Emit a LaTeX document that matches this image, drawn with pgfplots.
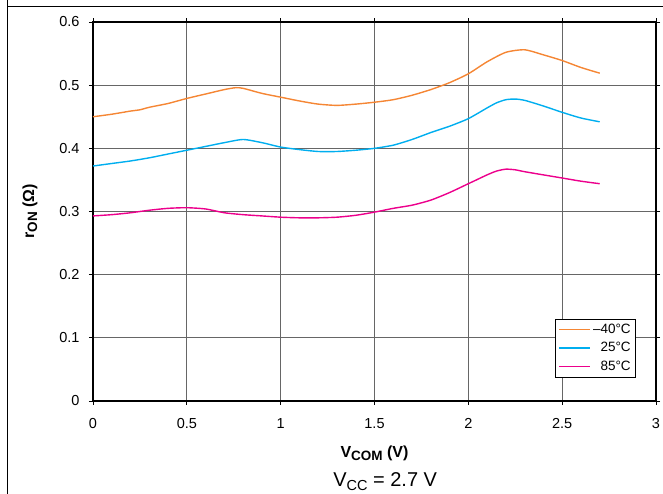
\documentclass[border=0pt]{standalone}
\usepackage{fontspec}
\setmainfont{Liberation Sans}
\usepackage{pgfplots}
\pgfplotsset{compat=1.18}

\definecolor{corange}{RGB}{245,134,52}
\definecolor{ccyan}{RGB}{0,174,239}
\definecolor{cmagenta}{RGB}{236,0,140}

% subscript at a fixed size
\newcommand{\sub}[2]{\raisebox{-0.35ex}{\fontsize{#1}{#1}\selectfont #2}}

\begin{document}
\begin{tikzpicture}[x=1pt,y=1pt]
% page frame
\useasboundingbox (-93,-93) rectangle (570,401);
\draw[line width=1pt] (-85,401) -- (-85,-93);
\draw[line width=1pt] (-85,394) -- (570,394);

\begin{axis}[
    at={(0,0)}, anchor=south west,
    scale only axis,
    width=563pt, height=379pt,
    xmin=0, xmax=3, ymin=0, ymax=0.6,
    xtick={0,0.5,...,3},
    ytick={0,0.1,...,0.6},
    xticklabels={0,0.5,1,1.5,2,2.5,3},
    yticklabels={0,0.1,0.2,0.3,0.4,0.5,0.6},
    tick align=outside,
    major tick length=4pt,
    tick style={black, line width=0.8pt},
    axis line style={line width=2.5pt},
    grid=major,
    grid style={gray!80!black, line width=1pt},
    ticklabel style={font=\fontsize{14.5}{16}\selectfont},
    xticklabel style={yshift=-9.5pt},
    yticklabel style={xshift=-6pt},
    /pgf/number format/assume math mode=true,
    xlabel={\bfseries V\sub{13.5}{COM}\ (V)},
    ylabel={\bfseries r\sub{13.5}{ON}\ (Ω)},
    every axis x label/.style={at={(axis description cs:0.5,-0.137)}, anchor=center, font=\fontsize{16}{18}\selectfont},
    every axis y label/.style={at={(axis description cs:-0.112,0.5)}, anchor=center, rotate=90, font=\fontsize{16}{18}\selectfont},
    clip=false,
    legend cell align=right,
    legend style={at={(0.9645,0.063)}, anchor=south east, draw=black, line width=0.6pt,
        font=\fontsize{13.5}{15}\selectfont, row sep=3.5pt, inner sep=3pt},
    legend image code/.code={\draw[#1, line width=1.6pt] (0pt,0pt) -- (31pt,0pt);},
    every axis plot/.append style={line width=1.4pt, smooth, tension=0.4},
]
\addplot[corange] coordinates {
(0.0,0.450) (0.1,0.454) (0.2,0.459) (0.25,0.461) (0.3,0.465) (0.4,0.471)
(0.5,0.479) (0.6,0.486) (0.7,0.493) (0.76,0.496) (0.8,0.495) (0.9,0.487)
(1.0,0.481) (1.1,0.475) (1.2,0.470) (1.3,0.468) (1.4,0.470) (1.5,0.473)
(1.6,0.477) (1.7,0.484) (1.8,0.493) (1.9,0.504) (2.0,0.518) (2.1,0.537)
(2.2,0.552) (2.3,0.556) (2.4,0.548) (2.5,0.539) (2.6,0.528) (2.7,0.519)
};
\addlegendentry{–40°C}
\addplot[ccyan] coordinates {
(0.0,0.372) (0.1,0.376) (0.2,0.380) (0.3,0.385) (0.4,0.391) (0.5,0.397)
(0.6,0.403) (0.7,0.409) (0.8,0.414) (0.9,0.409) (1.0,0.402) (1.1,0.398)
(1.2,0.395) (1.3,0.395) (1.4,0.397) (1.5,0.400) (1.6,0.405) (1.7,0.414)
(1.8,0.425) (1.9,0.435) (2.0,0.447) (2.1,0.464) (2.15,0.472) (2.2,0.477)
(2.25,0.478) (2.3,0.476) (2.4,0.467) (2.5,0.457) (2.6,0.448) (2.7,0.442)
};
\addlegendentry{25°C}
\addplot[cmagenta] coordinates {
(0.0,0.293) (0.1,0.295) (0.2,0.298) (0.3,0.302) (0.4,0.305) (0.5,0.306)
(0.6,0.304) (0.7,0.298) (0.8,0.295) (0.9,0.293) (1.0,0.291) (1.1,0.290)
(1.2,0.290) (1.3,0.291) (1.4,0.294) (1.5,0.299) (1.6,0.305) (1.7,0.310)
(1.8,0.318) (1.9,0.330) (2.0,0.344) (2.05,0.351) (2.1,0.358) (2.15,0.364)
(2.2,0.367) (2.25,0.366) (2.3,0.363) (2.4,0.358) (2.5,0.353) (2.6,0.348)
(2.7,0.344)
};
\addlegendentry{85°C}
\node[font=\fontsize{20}{22}\selectfont, anchor=center] at (axis description cs:0.519,-0.212) {V\sub{14.5}{CC} = 2.7 V};
\end{axis}
\end{tikzpicture}
\end{document}
